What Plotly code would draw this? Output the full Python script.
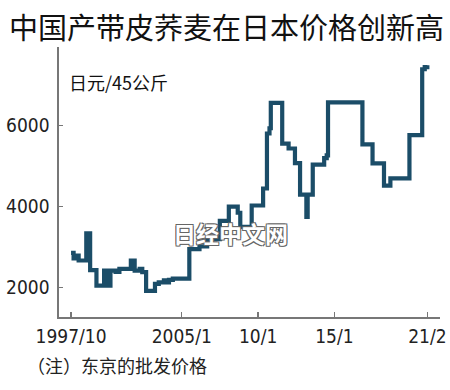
import plotly.graph_objects as go

# Monthly step points (date when price level changed, price in yen per 45 kg)
dates = ["1997-10-01", "1997-12-01", "1998-03-01", "1998-04-01", "1998-10-01",
         "1999-01-01", "1999-06-01", "1999-12-01", "2000-02-01", "2000-05-01",
         "2000-09-01", "2000-12-01", "2001-09-01", "2001-12-01", "2002-04-01",
         "2002-06-01", "2002-09-01", "2003-04-01", "2003-07-01", "2003-11-01",
         "2004-01-01", "2004-03-01", "2004-06-01", "2005-07-01", "2006-03-01",
         "2006-09-01", "2007-07-01", "2008-02-01", "2008-09-01", "2008-11-01",
         "2009-08-01", "2010-05-01", "2010-08-01", "2010-10-01", "2010-11-01",
         "2011-08-01", "2012-01-01", "2012-06-01", "2012-10-01", "2013-03-01",
         "2013-04-01", "2013-08-01", "2014-05-01", "2014-07-01", "2014-08-01",
         "2016-11-01", "2017-07-01", "2018-04-01", "2018-09-01", "2019-12-01",
         "2020-10-01", "2020-12-01", "2021-02-01"]
prices = [2860, 2720, 2790, 2670, 3340,
          2430, 2050, 2420, 2050, 2420,
          2390, 2460, 2670, 2420, 2460,
          2380, 1920, 2090, 2130, 2180,
          2130, 2190, 2220, 2950, 3020,
          3200, 3650, 4000, 3850, 3500,
          4030, 4450, 5810, 5940, 6570,
          5560, 5440, 5080, 4300, 3745,
          4300, 5040, 5200, 5270, 6580,
          5540, 5070, 4520, 4700, 5770,
          7400, 7450, 7500]

x_tick_vals = ["1997-10-01", "2005-01-01", "2010-01-01", "2015-01-01", "2021-02-01"]
x_tick_text = ["1997/10", "2005/1", "10/1", "15/1", "21/2"]
y_tick_vals = [2000, 4000, 6000]
y_tick_text = ["2000", "4000", "6000"]

title_text = "中国产带皮荞麦在日本价格创新高"
unit_text = "日元/45公斤"
note_text = "（注）东京的批发价格"
watermark_text = "日经中文网"

CJK = "Noto Sans CJK SC, sans-serif"
NUM = "DejaVu Sans Condensed, Roboto, sans-serif"

fig = go.Figure()
fig.add_trace(go.Scatter(
    x=dates, y=prices, mode="lines", line_shape="hv",
    line=dict(color="#1b4d68", width=4.2),
    hoverinfo="skip", showlegend=False,
))

fig.update_layout(
    width=450, height=390,
    margin=dict(l=59, r=10, t=47, b=73, autoexpand=False),
    paper_bgcolor="white", plot_bgcolor="white",
    showlegend=False,
    xaxis=dict(
        type="date", automargin=False,
        range=["1996-12-17", "2021-12-01"],
        tickvals=x_tick_vals, ticktext=x_tick_text,
        ticks="inside", ticklen=5, tickwidth=1.3, tickcolor="#777",
        showline=True, linecolor="#777", linewidth=1.6,
        showgrid=False, zeroline=False,
        tickfont=dict(family=NUM, size=19, color="#222"),
        ticklabelstandoff=2,
    ),
    yaxis=dict(
        automargin=False,
        range=[1272, 7950],
        tickvals=y_tick_vals, ticktext=y_tick_text,
        ticks="inside", ticklen=4, tickwidth=1.3, tickcolor="#777",
        showline=True, linecolor="#777", linewidth=1.6,
        showgrid=False, zeroline=False,
        tickfont=dict(family=NUM, size=19, color="#222"),
        ticklabelstandoff=4,
    ),
    annotations=[
        dict(text=title_text, xref="paper", yref="paper", x=0.5, y=1,
             xanchor="center", yanchor="middle", showarrow=False,
             xshift=-23, yshift=21,
             font=dict(family=CJK, size=29, color="#111")),
        dict(text=unit_text, xref="paper", yref="paper", x=0, y=1,
             xanchor="left", yanchor="middle", showarrow=False,
             xshift=8, yshift=-35,
             font=dict(family=CJK, size=18, color="#111")),
        dict(text=note_text, xref="paper", yref="paper", x=0, y=0,
             xanchor="left", yanchor="middle", showarrow=False,
             xshift=-34, yshift=-48,
             font=dict(family=CJK, size=18, color="#222")),
        dict(text="<b>" + watermark_text + "</b>", xref="paper", yref="paper",
             x=0, y=0, xanchor="center", yanchor="middle", showarrow=False,
             xshift=171, yshift=84,
             font=dict(family=CJK, size=23, color="white",
                       shadow="1px 1px 0 #666, -1px -1px 0 #666, 1px -1px 0 #666, -1px 1px 0 #666")),
    ],
)

fig.write_html("out.html", config={"displayModeBar": False, "staticPlot": True},
               post_script="document.body.style.margin='0';document.body.style.overflow='hidden';")
